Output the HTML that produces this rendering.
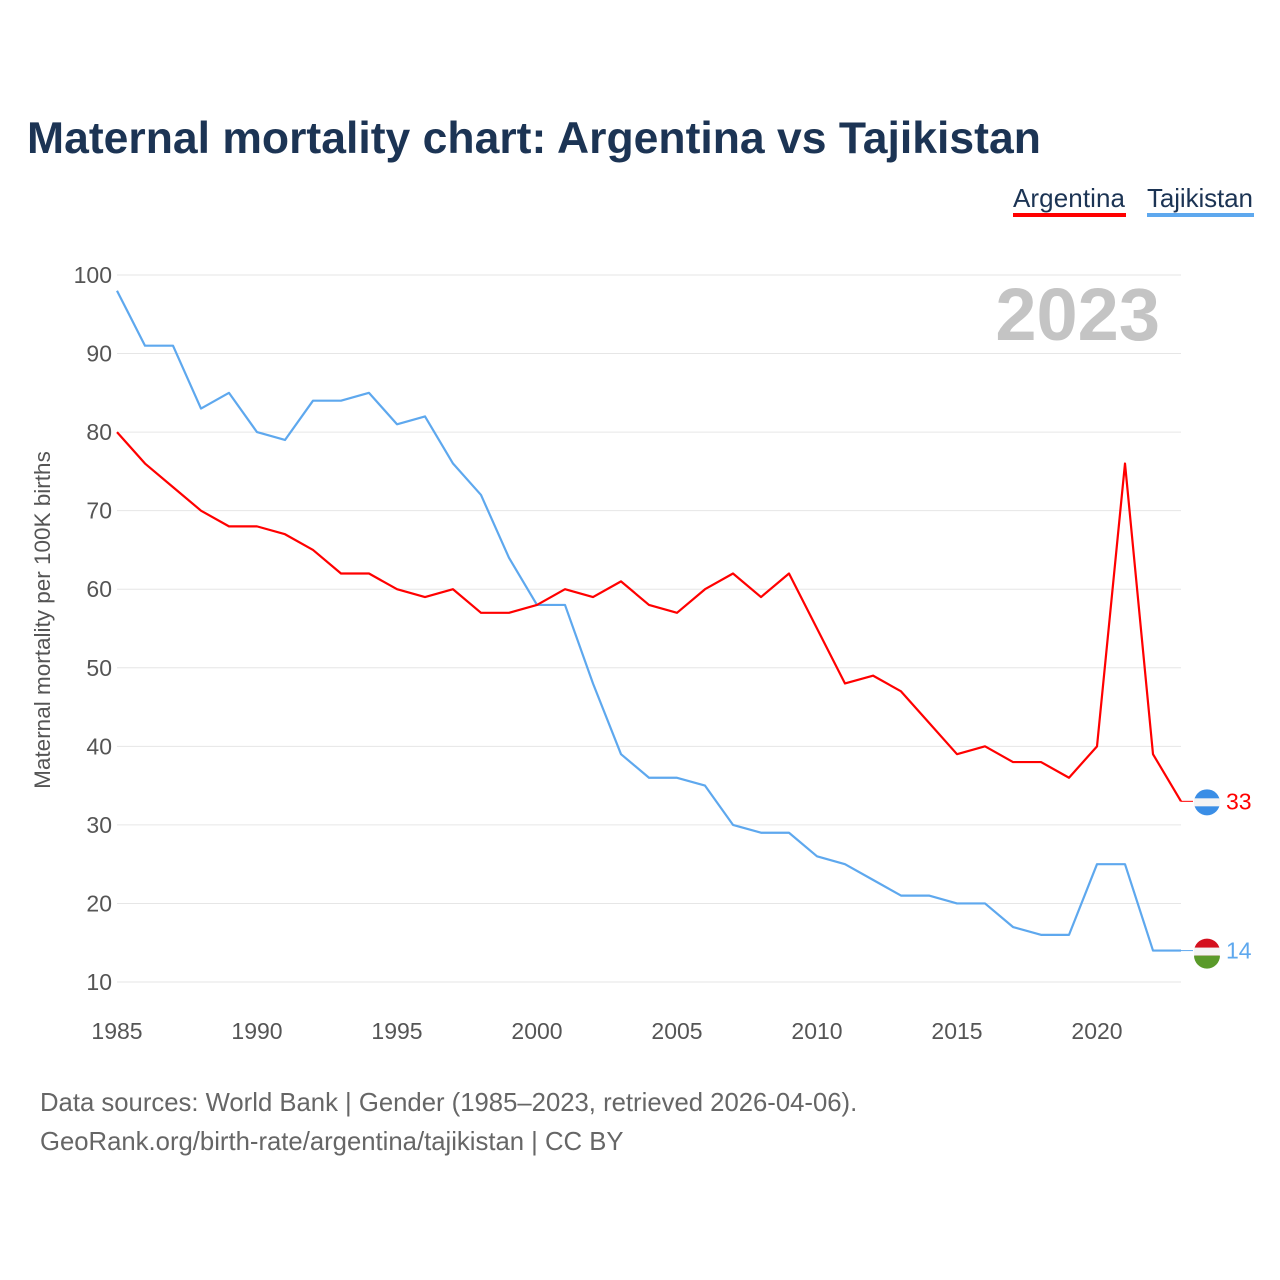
<!DOCTYPE html>
<html><head><meta charset="utf-8"><style>
body{margin:0;background:#fff;font-family:"Liberation Sans",sans-serif;}
#wrap{position:relative;width:1280px;height:1280px;overflow:hidden;}
</style></head><body>
<div id="wrap">
<svg id="chart" width="1280" height="1280" xmlns="http://www.w3.org/2000/svg">
<text x="27" y="153" font-size="44.5" font-weight="bold" fill="#1c3454" font-family="Liberation Sans, sans-serif">Maternal mortality chart: Argentina vs Tajikistan</text>
<g>
<text x="1013" y="207" font-size="26" fill="#1c3454" textLength="112">Argentina</text>
<rect x="1013" y="213" width="113" height="4" fill="#ff0000"/>
<text x="1147" y="207" font-size="26" fill="#1c3454" textLength="106">Tajikistan</text>
<rect x="1147" y="213" width="107" height="4" fill="#5ea8ee"/>
</g>
<text x="1160" y="340" font-size="74" font-weight="bold" fill="#c4c4c4" text-anchor="end">2023</text>
<g id="grid"></g><g id="xt"></g><g id="yt"></g>
<text transform="translate(50,620) rotate(-90)" font-size="22.5" fill="#555" text-anchor="middle">Maternal mortality per 100K births</text>
<g id="lines"></g>
<text x="40" y="1111" font-size="25.7" fill="#666">Data sources: World Bank | Gender (1985–2023, retrieved 2026-04-06).</text>
<text x="40" y="1150" font-size="25.7" fill="#666">GeoRank.org/birth-rate/argentina/tajikistan | CC BY</text>
</svg>
</div>
<script>
const years = [];
for (let y = 1985; y <= 2023; y++) years.push(y);
const argentina = [80,76,73,70,68,68,67,65,62,62,60,59,60,57,57,58,60,59,61,58,57,60,62,59,62,55,48,49,47,43,39,40,38,38,36,40,76,39,33];
const tajikistan = [98,91,91,83,85,80,79,84,84,85,81,82,76,72,64,58,58,48,39,36,36,35,30,29,29,26,25,23,21,21,20,20,17,16,16,25,25,14,14];
const yTicks = [10,20,30,40,50,60,70,80,90,100];
const xTicks = [1985,1990,1995,2000,2005,2010,2015,2020];
const NS = "http://www.w3.org/2000/svg";
const xS = v => 117 + (v - 1985) * 28;
const yS = v => 982 - (v - 10) * (707 / 90);
function mk(tag, attrs, parent) { const e = document.createElementNS(NS, tag); for (const k in attrs) e.setAttribute(k, attrs[k]); parent.appendChild(e); return e; }
const grid = document.getElementById('grid'), yt = document.getElementById('yt'), xt = document.getElementById('xt'), lines = document.getElementById('lines');
yTicks.forEach(t => {
  const l = mk('line', {x1: 117, x2: 1181, y1: yS(t), y2: yS(t), stroke: '#e6e6e6', 'stroke-width': 1}, grid);
  
  
  const tx = mk('text', {x: 112, y: yS(t) + 8, 'font-size': 23, fill: '#555', 'text-anchor': 'end'}, yt);
  tx.textContent = t;
  
  
});
xTicks.forEach(t => {
  const tx = mk('text', {x: xS(t), y: 1039, 'font-size': 23, fill: '#555', 'text-anchor': 'middle'}, xt);
  tx.textContent = t;
  
  
});
function series(vals, color, name) {
  const d = vals.map((v, i) => (i ? 'L' : 'M') + xS(years[i]) + ',' + yS(v)).join(' ');
  const p = mk('path', {d: d, fill: 'none', stroke: color, 'stroke-width': 2.2, 'stroke-linejoin': 'round'}, lines);
  
  
  const last = vals[vals.length - 1], ly = yS(last), lx = xS(years[years.length - 1]);
  const cn = mk('line', {x1: lx, x2: lx + 12, y1: ly, y2: ly, stroke: color, 'stroke-width': 1}, lines);
  
  
  const c = mk('circle', {cx: lx + 26, cy: ly + 1, r: 13, fill: name === 'argentina' ? '#3a8ee6' : '#d4101e'}, lines);
  
  
  const band = mk('rect', {x: lx + 13, y: ly - 3, width: 26, height: 8, fill: '#f4f4f4'}, lines);
  
  
  if (name === 'tajikistan') {
    const g = mk('path', {d: `M${lx+13},${ly+5} L${lx+39},${ly+5} A13,13 0 0 1 ${lx+13},${ly+5} Z`, fill: '#5a9a2a'}, lines);
    
    
  }
  const t = mk('text', {x: lx + 45, y: ly + 8, 'font-size': 23, fill: color}, lines);
  t.textContent = last;
  
  
}
series(tajikistan, '#5ea8ee', 'tajikistan');
series(argentina, '#ff0000', 'argentina');
</script>
</body></html>
